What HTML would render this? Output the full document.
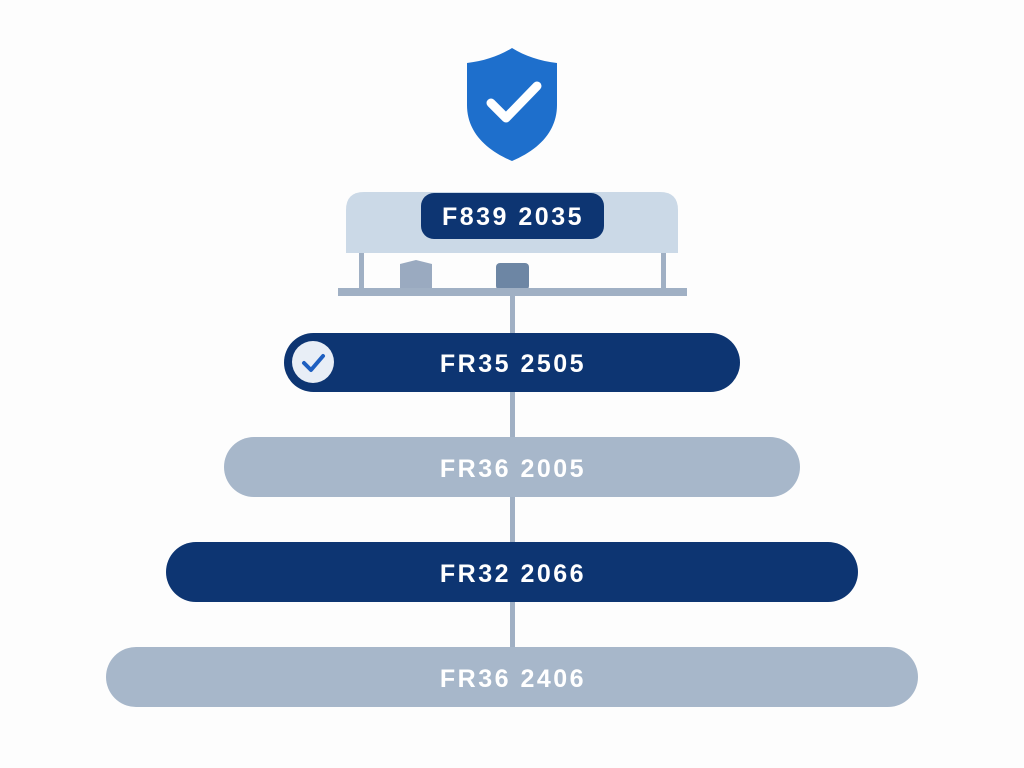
<!DOCTYPE html>
<html><head><meta charset="utf-8"><style>
html,body{margin:0;padding:0;background:#fdfdfd;}
svg{display:block}
text{font-family:"Liberation Sans",sans-serif;font-weight:bold;font-size:25px;fill:#fff;letter-spacing:2.5px}
</style></head><body>
<svg width="1024" height="768" viewBox="0 0 1024 768">
<rect width="1024" height="768" fill="#fdfdfd"/>
<path d="M512 48 C525 56 540 61 557 63 L557 105 C557 132 538 150 512 161 C486 150 467 132 467 105 L467 63 C484 61 499 56 512 48 Z" fill="#1e6fcc"/>
<path d="M491 103 L506 118 L537 86" stroke="#fff" stroke-width="9" fill="none" stroke-linecap="round" stroke-linejoin="round"/>
<path d="M346 253 L346 210 Q346 192 364 192 L660 192 Q678 192 678 210 L678 253 Z" fill="#cbd9e7"/>
<rect x="421" y="193" width="183" height="46" rx="13" fill="#0d3572"/>
<text x="513" y="225" text-anchor="middle">F839 2035</text>
<rect x="359" y="253" width="5" height="38" fill="#a0b0c4"/>
<rect x="661" y="253" width="5" height="38" fill="#a0b0c4"/>
<path d="M400 290 L400 264 L416 260 L432 264 L432 290 Z" fill="#9aaac0"/>
<rect x="496" y="263" width="33" height="27" rx="4" fill="#6d86a4"/>
<rect x="338" y="288" width="349" height="8" fill="#a0b0c4"/>
<rect x="510" y="296" width="5" height="352" fill="#a0b0c4"/>
<rect x="284" y="333" width="456" height="59" rx="29.5" fill="#0d3572"/>
<circle cx="313" cy="362" r="21" fill="#e8eef6"/>
<path d="M304 363 L311 370 L323 356" stroke="#1e5fc0" stroke-width="4" fill="none" stroke-linecap="round" stroke-linejoin="round"/>
<text x="513" y="372" text-anchor="middle">FR35 2505</text>
<rect x="224" y="437" width="576" height="60" rx="30" fill="#a7b7ca"/>
<text x="513" y="477" text-anchor="middle">FR36 2005</text>
<rect x="166" y="542" width="692" height="60" rx="30" fill="#0d3572"/>
<text x="513" y="582" text-anchor="middle">FR32 2066</text>
<rect x="106" y="647" width="812" height="60" rx="30" fill="#a7b7ca"/>
<text x="513" y="687" text-anchor="middle">FR36 2406</text>
</svg>
</body></html>
